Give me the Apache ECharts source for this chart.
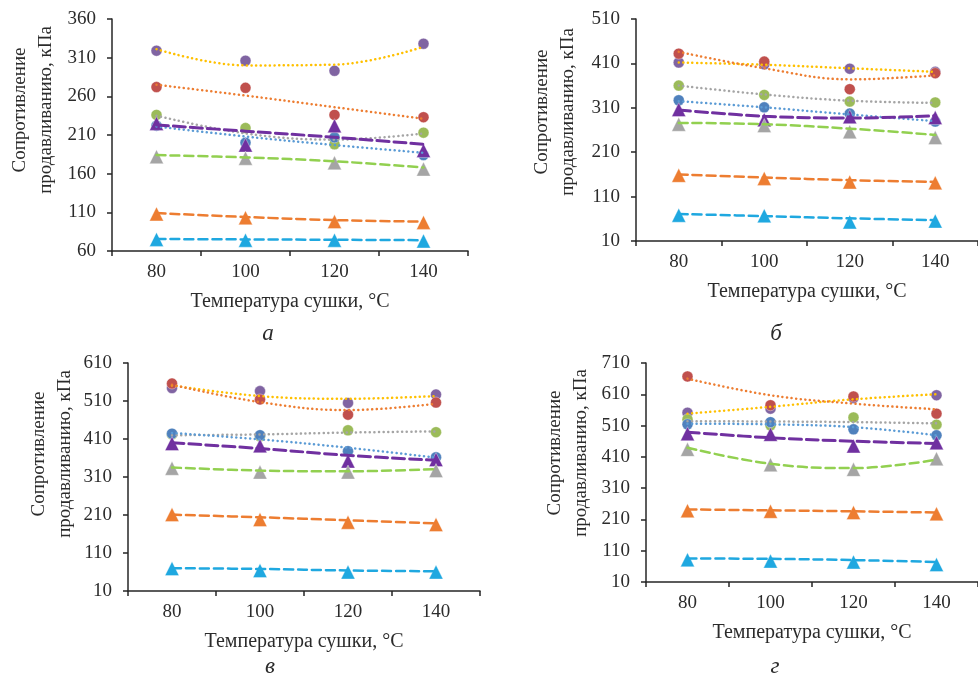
<!DOCTYPE html>
<html>
<head>
<meta charset="utf-8">
<script src="https://cdn.jsdelivr.net/npm/echarts@6/dist/echarts.min.js"></script>
<style>
  html, body { margin: 0; padding: 0; background: #fff; }
  #chart { width: 978px; height: 679px; }
</style>
</head>
<body>
<div id="chart"></div>
<script>
// категории по оси X (температура сушки)
const temps = ['80', '100', '120', '140'];

// диапазоны оси Y: [min, max, шаг]
const yRangeA = [60, 360, 50];
const yRangeB = [10, 510, 100];
const yRangeV = [10, 610, 100];
const yRangeG = [10, 710, 100];

// точки: фиол. круг, красн. круг, зел. круг, син. круг, фиол. треуг., сер. треуг., оранж. треуг., голуб. треуг.
const pointsA = [
  [319, 306, 293, 328],
  [272, 271, 236, 233],
  [236, 219, 198, 213],
  [222, 200, 207, 184],
  [225, 197, 222, 190],
  [182, 180, 174, 166],
  [108, 103, 98, 97],
  [75, 74, 74, 73]
];
// линии тренда в тех же точках (по рисунку)
const trendsA = [
  [321, 300, 301, 324],
  [275, 261, 246, 231],
  [235, 212, 204, 212],
  [221, 208, 197, 187],
  [223, 215, 207, 198],
  [184, 181, 176, 168],
  [109, 104, 100, 98],
  [75.5, 75, 74.5, 74]
];

const pointsB = [
  [412, 408, 398, 391],
  [432, 414, 352, 388],
  [360, 339, 324, 322],
  [327, 311, 297, 279],
  [306, 283, 290, 288],
  [273, 270, 256, 243],
  [158, 151, 143, 141],
  [68, 67, 53, 55]
];
const trendsB = [
  [412, 407, 399, 391],
  [436, 399, 374, 383],
  [360, 340, 326, 321],
  [325, 311, 295, 280],
  [305, 291, 287, 292],
  [276, 273, 263, 249],
  [160, 153, 147, 143],
  [71, 66, 61, 57]
];

const pointsV = [
  [544, 536, 505, 527],
  [556, 514, 474, 506],
  [422, 417, 433, 428],
  [424, 420, 378, 362],
  [398, 392, 352, 356],
  [333, 323, 323, 327],
  [211, 198, 191, 185],
  [69, 64, 60, 60]
];
const trendsV = [
  [551, 523, 516, 523],
  [553, 507, 486, 503],
  [420, 422, 427, 430],
  [426, 409, 387, 361],
  [400, 385, 367, 354],
  [335, 327, 325, 331],
  [211, 204, 196, 188],
  [70, 68, 64, 62]
];

const pointsG = [
  [551, 564, 598, 607],
  [667, 575, 603, 548],
  [530, 511, 536, 513],
  [514, 521, 498, 479],
  [484, 482, 445, 455],
  [434, 385, 370, 404],
  [238, 236, 232, 228],
  [81, 77, 74, 66]
];
const trendsG = [
  [548, 570, 594, 610],
  [660, 607, 580, 562],
  [524, 523, 521, 517],
  [516, 514, 505, 479],
  [489, 471, 460, 453],
  [439, 388, 374, 401],
  [242, 239, 236, 232],
  [85, 84, 80, 74]
];

const xTitle = 'Температура сушки, °C';
const yTitle = 'Сопротивление\nпродавливанию, кПа';
const captions = ['а', 'б', 'в', 'г'];

const FONT = '"Liberation Serif", "DejaVu Serif", serif';
const TXT = '#2b2b2b';

// стиль маркеров
const markerStyle = [
  { symbol: 'circle', size: 11, color: '#8064A2' },
  { symbol: 'circle', size: 11, color: '#C0504D' },
  { symbol: 'circle', size: 11, color: '#9BBB59' },
  { symbol: 'circle', size: 11, color: '#4F81BD' },
  { symbol: 'triangle', size: 14, color: '#7030A0' },
  { symbol: 'triangle', size: 14, color: '#A5A5A5' },
  { symbol: 'triangle', size: 14, color: '#ED7D31' },
  { symbol: 'triangle', size: 14, color: '#1FA8E0' }
];
// стиль линий тренда
const dot = [0.1, 4.5];
const trendStyle = [
  { color: '#FFC000', type: dot, width: 2.5 },
  { color: '#ED7D31', type: dot, width: 2.5 },
  { color: '#A5A5A5', type: dot, width: 2.5 },
  { color: '#5B9BD5', type: dot, width: 2.5 },
  { color: '#7030A0', type: [12, 5], width: 3 },
  { color: '#92D050', type: [9, 5], width: 2.5 },
  { color: '#ED7D31', type: [9, 5], width: 2.5 },
  { color: '#1FA8E0', type: [9, 5], width: 2.5 }
];

const panels = [
  { grid: { left: 112, top: 19, width: 356, height: 232 }, range: yRangeA, pts: pointsA, tr: trendsA, yt: [33, 110], cap: [268, 334] },
  { grid: { left: 636, top: 19, width: 344, height: 222 }, range: yRangeB, pts: pointsB, tr: trendsB, yt: [555, 112], cap: [776, 334] },
  { grid: { left: 128, top: 363, width: 352, height: 228 }, range: yRangeV, pts: pointsV, tr: trendsV, yt: [52, 454], cap: [270, 667] },
  { grid: { left: 646, top: 363, width: 340, height: 219 }, range: yRangeG, pts: pointsG, tr: trendsG, yt: [568, 453], cap: [775, 667] }
];

const axisColor = '#262626';

let grid = [], xAxis = [], yAxis = [], series = [], graphic = [];

panels.forEach((p, i) => {
  grid.push(p.grid);
  xAxis.push({
    type: 'category',
    gridIndex: i,
    data: temps,
    boundaryGap: true,
    axisLine: { lineStyle: { color: axisColor, width: 1.5 } },
    axisTick: { show: true, length: 5, inside: false, lineStyle: { color: axisColor, width: 1.5 } },
    axisLabel: { color: TXT, fontFamily: FONT, fontSize: 19, margin: 12 },
    name: xTitle,
    nameLocation: 'middle',
    nameGap: 41,
    nameTextStyle: { color: TXT, fontFamily: FONT, fontSize: 20 }
  });
  yAxis.push({
    type: 'value',
    gridIndex: i,
    min: p.range[0],
    max: p.range[1],
    interval: p.range[2],
    axisLine: { show: true, lineStyle: { color: axisColor, width: 1.5 } },
    axisTick: { show: true, length: 5, lineStyle: { color: axisColor, width: 1.5 } },
    splitLine: { show: false },
    axisLabel: { color: TXT, fontFamily: FONT, fontSize: 19, margin: 16 }
  });

  p.pts.forEach((vals, k) => {
    const m = markerStyle[k];
    series.push({
      type: 'scatter',
      xAxisIndex: i,
      yAxisIndex: i,
      symbol: m.symbol,
      symbolSize: m.size,
      itemStyle: { color: m.color, opacity: 1, borderColor: 'rgba(255,255,255,0.45)', borderWidth: 0.8 },
      z: 2,
      data: vals
    });
  });
  p.tr.forEach((vals, k) => {
    const t = trendStyle[k];
    series.push({
      type: 'line',
      xAxisIndex: i,
      yAxisIndex: i,
      smooth: 0.4,
      symbol: 'none',
      lineStyle: { color: t.color, width: t.width, type: t.type, cap: 'round' },
      z: 3,
      silent: true,
      data: vals
    });
  });

  graphic.push({
    type: 'text',
    x: p.yt[0],
    y: p.yt[1],
    rotation: Math.PI / 2,
    style: {
      text: yTitle,
      fill: TXT,
      font: '19px ' + FONT,
      align: 'center',
      verticalAlign: 'middle',
      lineHeight: 26
    }
  });
  graphic.push({
    type: 'text',
    x: p.cap[0],
    y: p.cap[1],
    style: {
      text: captions[i],
      fill: TXT,
      font: 'italic 23px ' + FONT,
      align: 'center',
      verticalAlign: 'middle'
    }
  });
});

const myChart = echarts.init(document.getElementById('chart'));
myChart.setOption({
  animation: false,
  backgroundColor: '#fff',
  grid: grid,
  xAxis: xAxis,
  yAxis: yAxis,
  series: series,
  graphic: graphic
});
</script>
</body>
</html>
